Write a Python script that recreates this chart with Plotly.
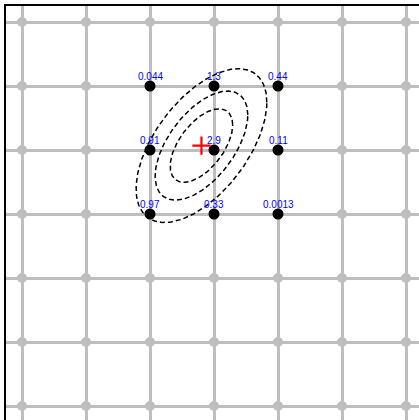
import numpy as np
import plotly.graph_objects as go

# grid lattice
grid_x = [0, 1, 2, 3, 4, 5, 6]
grid_y = [0, 1, 2, 3, 4, 5, 6]

# labelled points (x, y, weight)
pt_x = [2, 3, 4, 2, 3, 4, 2, 3, 4]
pt_y = [5, 5, 5, 4, 4, 4, 3, 3, 3]
pt_val = [0.044, 1.3, 0.44, 0.91, 2.9, 0.11, 0.97, 0.33, 0.0013]
pt_labels = ["0.044", "1.3", "0.44", "0.91", "2.9", "0.11", "0.97", "0.33", "0.0013"]

# contour radii (in standard-deviation units)
contour_k = [0.87, 1.29, 1.82]

w = np.array(pt_val)
X = np.array(pt_x, float)
Y = np.array(pt_y, float)
mx = np.sum(w * X) / w.sum()
my = np.sum(w * Y) / w.sum()
cxx = np.sum(w * (X - mx) ** 2) / w.sum()
cyy = np.sum(w * (Y - my) ** 2) / w.sum()
cxy = np.sum(w * (X - mx) * (Y - my)) / w.sum()
L = np.linalg.cholesky(np.array([[cxx, cxy], [cxy, cyy]]))

fig = go.Figure()

gx, gy = np.meshgrid(grid_x, grid_y)
fig.add_trace(go.Scatter(x=gx.ravel(), y=gy.ravel(), mode="markers",
                         marker=dict(size=10, color="#bebebe"),
                         hoverinfo="skip", showlegend=False))

t = np.linspace(0, 2 * np.pi, 240)
circ = np.vstack([np.cos(t), np.sin(t)])
for k in contour_k:
    e = L @ circ * k
    fig.add_trace(go.Scatter(x=mx + e[0], y=my + e[1], mode="lines",
                             line=dict(color="black", width=1.5, dash="5px,3px"),
                             hoverinfo="skip", showlegend=False))

fig.add_trace(go.Scatter(x=pt_x, y=pt_y, mode="markers",
                         marker=dict(size=11, color="black"),
                         showlegend=False))

fig.add_trace(go.Scatter(x=[mx], y=[my], mode="markers",
                         marker=dict(symbol="cross-thin", size=13,
                                     line=dict(color="red", width=2.2)),
                         showlegend=False))

for x, y, lab in zip(pt_x, pt_y, pt_labels):
    fig.add_annotation(x=x, y=y, text=lab, showarrow=False,
                       yanchor="bottom", yshift=2,
                       font=dict(family="Liberation Sans, Arial", size=10, color="blue"))

axis_common = dict(showgrid=True, gridcolor="#bebebe", gridwidth=2.5, dtick=1,
                   tick0=0, zeroline=False, showticklabels=False, ticks="")
fig.update_xaxes(range=[-0.25, 6.203], side="top", showline=True,
                 linecolor="black", linewidth=1.5, **axis_common)
fig.update_yaxes(range=[-0.21875, 6.25], showline=True,
                 linecolor="black", linewidth=1.5, **axis_common)

fig.update_layout(width=419, height=420, margin=dict(l=6, r=0, t=6, b=0),
                  plot_bgcolor="white", paper_bgcolor="white")

fig.write_html("out.html", config={"displayModeBar": False},
               post_script="document.body.style.margin='0';document.body.style.overflow='hidden';")
